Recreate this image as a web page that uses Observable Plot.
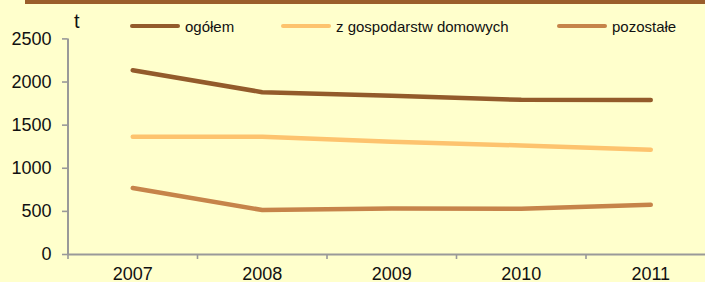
<!DOCTYPE html>
<html>
<head>
<meta charset="utf-8">
<script src="https://cdn.jsdelivr.net/npm/d3@7"></script>
<script src="https://cdn.jsdelivr.net/npm/@observablehq/plot@0.6"></script>
<style>
  html, body { margin: 0; padding: 0; background: #FFFFCC; }
  #wrap { position: relative; width: 705px; height: 282px; background: #FFFFCC; overflow: hidden;
          font-family: "Liberation Sans", Arial, sans-serif; color: #111; }
  #topbar { position: absolute; left: 25px; top: 0; width: 680px; height: 4px; background: #9A5E2B; }
  #unit { position: absolute; left: 74px; top: 11px; font-size: 20px; line-height: 20px; }
  .leg { position: absolute; top: 16px; height: 20px; display: flex; align-items: center; font-size: 15px; white-space: nowrap; }
  .sw { display: inline-block; width: 50px; height: 4px; border-radius: 2px; margin-right: 5px; }
  #chart { position: absolute; left: 0; top: 0; }
</style>
</head>
<body>
<div id="wrap">
  <div id="chart"></div>
  <div id="topbar"></div>
  <div id="unit">t</div>
  <div id="legend"></div>
</div>
<script>
const years = [2007, 2008, 2009, 2010, 2011];
const ogolem = [2137, 1882, 1840, 1794, 1792];
const gospodarstwa = [1366, 1366, 1306, 1264, 1216];
const pozostale = [771, 516, 534, 530, 576];
const seriesNames = ["ogółem", "z gospodarstw domowych", "pozostałe"];
const seriesColors = ["#935B2B", "#FDC36E", "#C6844A"];
const yTicks = [0, 500, 1000, 1500, 2000, 2500];

const seriesValues = [ogolem, gospodarstwa, pozostale];
const data = [];
seriesNames.forEach((name, si) => {
  years.forEach((yr, i) => data.push({year: yr, series: name, value: seriesValues[si][i]}));
});
const boundaries = years.map(y => y - 0.5).concat([years[years.length - 1] + 0.5]);

const chart = Plot.plot({
  width: 705,
  height: 282,
  marginLeft: 67.5,
  marginRight: 0,
  marginTop: 38.4,
  marginBottom: 28,
  style: {background: "transparent", fontFamily: "'Liberation Sans', Arial, sans-serif", fontSize: "18px", color: "#111"},
  x: {domain: [boundaries[0], boundaries[boundaries.length - 1]], range: [67.5, 715]},
  y: {domain: [0, 2500]},
  color: {domain: seriesNames, range: seriesColors},
  marks: [
    Plot.axisY({ticks: yTicks, tickSize: 5.5, tickPadding: 11, stroke: "#999", strokeWidth: 1.6, tickFormat: d => String(d), label: null}),
    Plot.axisX({ticks: boundaries, tickSize: 5, tickFormat: () => "", stroke: "#999", strokeWidth: 1.6, label: null}),
    Plot.axisX({ticks: years, tickSize: 0, tickPadding: 13, tickFormat: d => String(d), label: null}),
    Plot.ruleX([boundaries[0]], {stroke: "#999", strokeWidth: 2}),
    Plot.ruleY([0], {stroke: "#999", strokeWidth: 2}),
    Plot.line(data, {x: "year", y: "value", z: "series", stroke: "series", strokeWidth: 4.5, strokeLinecap: "round", strokeLinejoin: "round"})
  ]
});
document.getElementById("chart").appendChild(chart);

const legendLefts = [130, 281, 557];
const legend = document.getElementById("legend");
seriesNames.forEach((name, i) => {
  const item = document.createElement("div");
  item.className = "leg";
  item.style.left = legendLefts[i] + "px";
  const sw = document.createElement("span");
  sw.className = "sw";
  sw.style.background = seriesColors[i];
  item.appendChild(sw);
  item.appendChild(document.createTextNode(name));
  legend.appendChild(item);
});
</script>
</body>
</html>
